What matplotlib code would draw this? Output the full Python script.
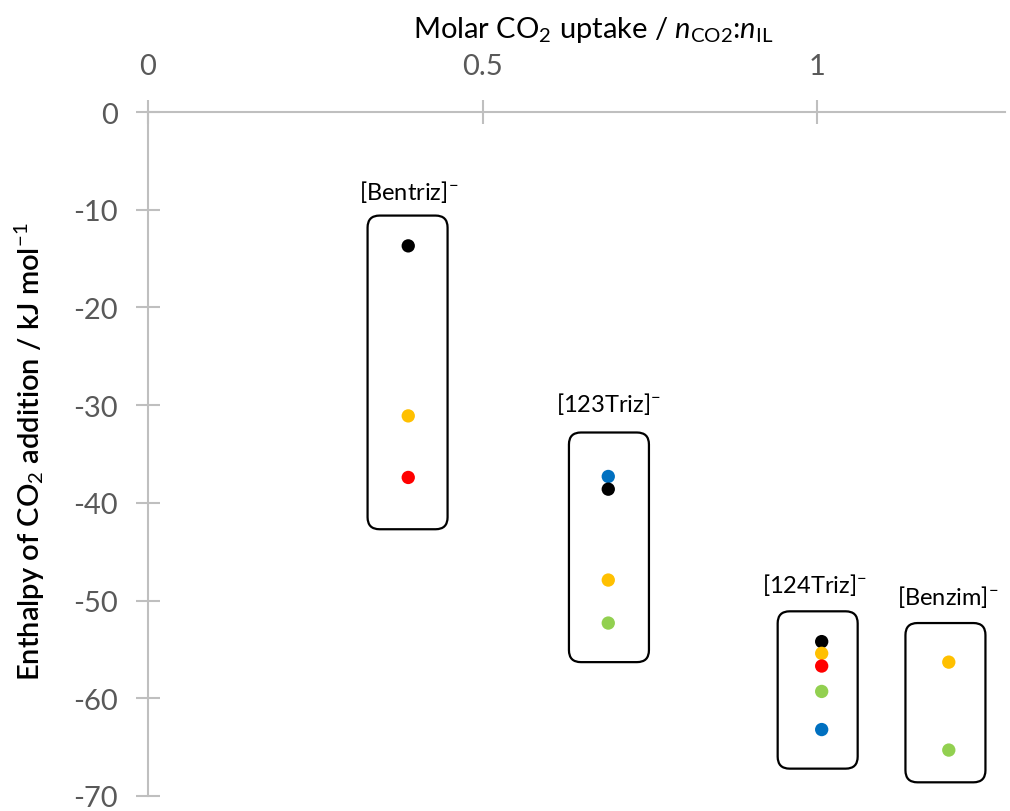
import numpy as np
import matplotlib
matplotlib.use('Agg')
import matplotlib.pyplot as plt
from matplotlib.patches import FancyBboxPatch

plt.rcParams['font.family'] = ['Lato', 'DejaVu Sans']
plt.rcParams['mathtext.fontset'] = 'custom'
plt.rcParams['mathtext.rm'] = 'Lato'
plt.rcParams['mathtext.it'] = 'Lato:italic'
plt.rcParams['mathtext.bf'] = 'Lato:bold'
plt.rcParams['axes.unicode_minus'] = False

# anion groups and their x (molar uptake)
groups = ['[Bentriz]', '[123Triz]', '[124Triz]', '[Benzim]']
group_x = [0.389, 0.688, 1.007, 1.197]

# enthalpy per series (nan = no value for that anion)
nan = np.nan
blue_y = [nan, -37.3, -63.2, nan]
black_y = [-13.7, -38.6, -54.2, nan]
orange_y = [-31.1, -47.9, -55.4, -56.3]
red_y = [-37.4, nan, -56.7, nan]
green_y = [nan, -52.3, -59.3, -65.3]

series = [
    (blue_y, '#0070C0'),
    (black_y, '#000000'),
    (orange_y, '#FFC000'),
    (red_y, '#FF0000'),
    (green_y, '#92D050'),
]

# box extents around each group
box_top = [-10.6, -32.8, -51.1, -52.3]
box_bottom = [-42.7, -56.3, -67.2, -68.6]
box_center = [0.388, 0.689, 1.001, 1.192]
label_x = [0.389, 0.688, 0.997, 1.196]
label_y = [-8.1, -29.8, -48.3, -49.5]

W, H = 1010, 812
fig = plt.figure(figsize=(W / 100, H / 100), dpi=100)
ax_l, ax_r, ax_t, ax_b = 148, 1005, 113, 797
ax = fig.add_axes([ax_l / W, 1 - ax_b / H, (ax_r - ax_l) / W, (ax_b - ax_t) / H])

xmax = (ax_r - ax_l) / 669.0
ax.set_xlim(0, xmax)
ax.set_ylim(-70, 0)

axis_col = '#BFBFBF'
tick_col = '#595959'
for side in ['right', 'bottom']:
    ax.spines[side].set_visible(False)
for side in ['left', 'top']:
    ax.spines[side].set_color(axis_col)
    ax.spines[side].set_linewidth(1.5)

ax.xaxis.tick_top()
ax.set_xticks([0, 0.5, 1])
ax.set_xticklabels(['0', '0.5', '1'])
ax.set_yticks(np.arange(-70, 1, 10))
ax.tick_params(axis='both', direction='inout', length=17, width=1.5,
               color=axis_col, labelcolor=tick_col, labelsize=21)
ax.tick_params(axis='x', pad=15)
ax.tick_params(axis='y', pad=13)

ax.set_xlabel(r'Molar CO$_2$ uptake / $n_{\mathrm{CO2}}$:$n_{\mathrm{IL}}$',
              fontsize=21, color='#000000')
ax.xaxis.set_label_position('top')
ax.xaxis.set_label_coords((593 - ax_l) / (ax_r - ax_l), (ax_b - 30) / (ax_b - ax_t))
ax.xaxis.label.set_va('center')

ax.set_ylabel(r'Enthalpy of CO$_2$ addition / kJ mol$^{-1}$', fontsize=21,
              color='#000000', fontweight='semibold')
ax.yaxis.set_label_coords((30 - ax_l) / (ax_r - ax_l), (ax_b - 452) / (ax_b - ax_t))
ax.yaxis.label.set_va('center')

# rounded boxes (aspect corrected so corners look round on screen)
px_x = 1 / 669.0
px_y = 70.0 / (ax_b - ax_t)
half_w = 40 * px_x
for cx, top, bot in zip(box_center, box_top, box_bottom):
    box = FancyBboxPatch((cx - half_w, bot), 2 * half_w, top - bot,
                         boxstyle='round,pad=0,rounding_size=%f' % (12 * px_x),
                         mutation_aspect=px_y / px_x,
                         facecolor='none', edgecolor='#000000', linewidth=1.6,
                         zorder=2)
    ax.add_patch(box)

for ys, col in series:
    ax.scatter(group_x, ys, s=92, color=col, edgecolors='none', zorder=3)

for name, lx, ly in zip(groups, label_x, label_y):
    ax.text(lx, ly, name + r'$^{-}$', fontsize=17, ha='center', va='center',
            color='#000000')

fig.savefig('out.png', dpi=100)
